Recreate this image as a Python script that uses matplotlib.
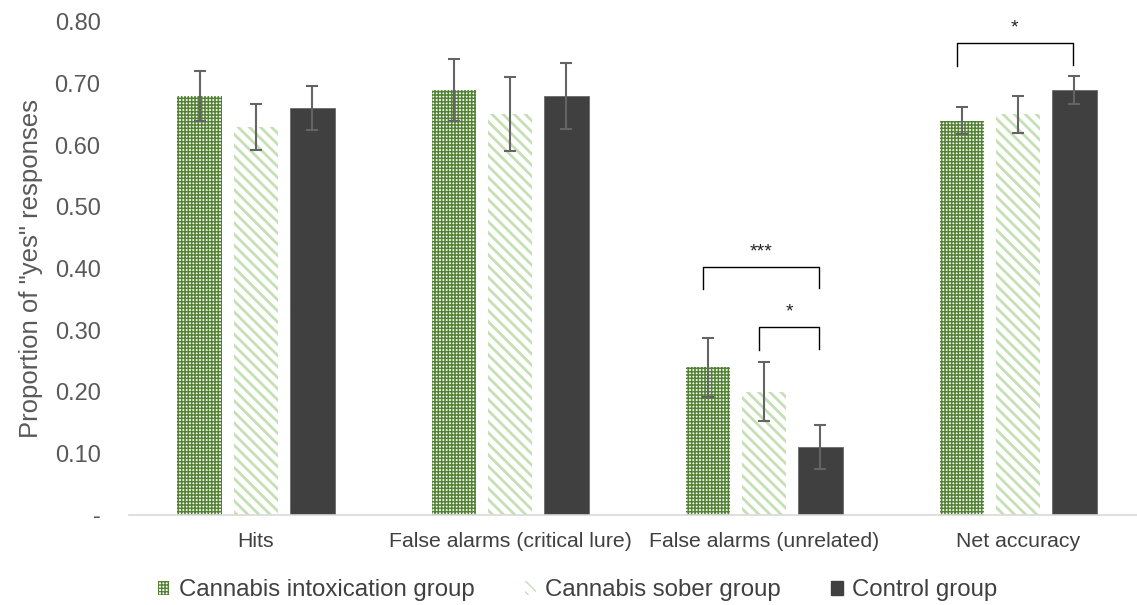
import matplotlib
matplotlib.use("Agg")
import matplotlib.pyplot as plt
from matplotlib.patches import Patch
import numpy as np

categories = ["Hits", "False alarms (critical lure)", "False alarms (unrelated)", "Net accuracy"]
groups = ["Cannabis intoxication group", "Cannabis sober group", "Control group"]
intox = [0.68, 0.69, 0.24, 0.64]
intox_err = [0.040, 0.050, 0.048, 0.022]
sober = [0.63, 0.65, 0.20, 0.65]
sober_err = [0.037, 0.060, 0.048, 0.030]
control = [0.66, 0.68, 0.11, 0.69]
control_err = [0.036, 0.053, 0.036, 0.023]
yticks = [0, 0.1, 0.2, 0.3, 0.4, 0.5, 0.6, 0.7, 0.8]
ytick_labels = ["-", "0.10", "0.20", "0.30", "0.40", "0.50", "0.60", "0.70", "0.80"]
# significance brackets: (category, group_a, group_b, top, label)
brackets = [(2, 0, 2, 0.403, "***"), (2, 1, 2, 0.305, "*"), (3, 0, 2, 0.766, "*")]

plt.rcParams['font.family'] = ['Liberation Sans', 'DejaVu Sans']

fig = plt.figure(figsize=(11.37, 6.05), dpi=100)
ax = fig.add_axes([129/1137, 90/605, 1 - 129/1137, 493/605])

x = np.arange(len(categories))
w = 0.175
pitch = 0.2216
GREEN = "#548235"
LIGHT = "#C5E0B4"
DARK = "#404040"
ERR = "#646464"

def set_hlw(bars, lw):
    for b in bars:
        if hasattr(b, "set_hatch_linewidth"):
            b.set_hatch_linewidth(lw)

with plt.rc_context({'hatch.linewidth': 1.1}):
    b1 = ax.bar(x - pitch, intox, w, facecolor="white", edgecolor=GREEN, linewidth=0, hatch="+++++")
    set_hlw(b1, 1.1)
with plt.rc_context({'hatch.linewidth': 2.0}):
    b2 = ax.bar(x, sober, w, facecolor="white", edgecolor=LIGHT, linewidth=0, hatch="\\\\\\")
    set_hlw(b2, 2.0)
b3 = ax.bar(x + pitch, control, w, facecolor=DARK, edgecolor="#6a6a6a", linewidth=0.6)

for off, vals, errs in [(-pitch, intox, intox_err), (0, sober, sober_err), (pitch, control, control_err)]:
    ax.errorbar(x + off, vals, yerr=errs, fmt="none", ecolor=ERR, elinewidth=1.5,
                capsize=4.5, capthick=1.5, zorder=5)

for cat, ga, gb, top, lab in brackets:
    xa = cat + (ga - 1) * pitch - 0.02
    xb = cat + (gb - 1) * pitch - 0.005
    ax.plot([xa, xa, xb, xb], [top - 0.037, top, top, top - 0.035], color="black", lw=1.0)
    ax.text((xa + xb) / 2, top + 0.010, lab, ha="center", va="bottom", fontsize=14, color="#222222")

ax.set_xlim(-0.5, 3.468)
ax.set_ylim(0, 0.8)
ax.set_xticks(x)
ax.set_xticklabels(categories, fontsize=15.3, color="#404040")
ax.set_yticks(yticks)
ax.set_yticklabels(ytick_labels, fontsize=17, color="#595959")
ax.tick_params(axis="both", length=0)
ax.tick_params(axis="x", pad=12.5)
ax.tick_params(axis="y", pad=20.5)
for s in ["top", "right", "left"]:
    ax.spines[s].set_visible(False)
ax.spines["bottom"].set_color("#d9d9d9")
ax.spines["bottom"].set_linewidth(1.2)
ax.set_ylabel('Proportion of "yes" responses', fontsize=18.5, color="#595959", labelpad=8)

with plt.rc_context({'hatch.linewidth': 1.1}):
    h1 = Patch(facecolor="white", edgecolor=GREEN, linewidth=0, hatch="+++++")
with plt.rc_context({'hatch.linewidth': 2.0}):
    h2 = Patch(facecolor="white", edgecolor=LIGHT, linewidth=0, hatch="\\\\\\")
h3 = Patch(facecolor=DARK, edgecolor=DARK)
fig.legend([h1, h2, h3], groups, loc="center", bbox_to_anchor=(0.508, 0.024), ncol=3,
           frameon=False, fontsize=17.3, handlelength=0.47, handleheight=0.47,
           handletextpad=0.38, columnspacing=2.1, labelcolor="#404040",
           borderpad=0, borderaxespad=0)

fig.savefig("out.png", dpi=100)
